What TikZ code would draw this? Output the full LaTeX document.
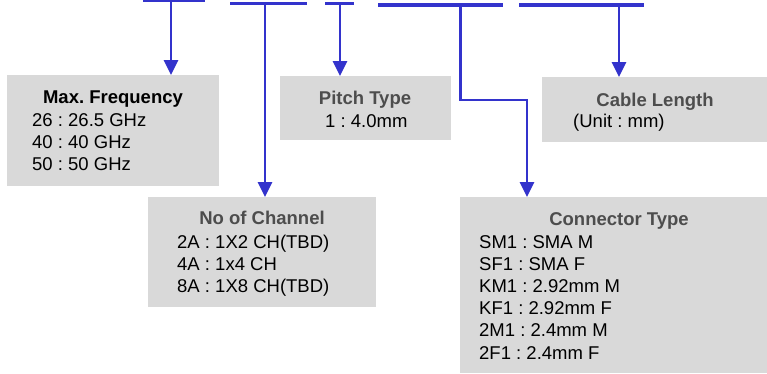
\documentclass[tikz,border=0pt]{standalone}
\usepackage{fontspec}
\setmainfont{Liberation Sans}
\usetikzlibrary{arrows.meta}
\definecolor{codeblue}{HTML}{3333CC}
\definecolor{boxgray}{HTML}{D9D9D9}
\definecolor{titlegray}{HTML}{4D4D4D}
\frenchspacing

\begin{document}
\begin{tikzpicture}[x=1pt,y=-1pt,
    box/.style={fill=boxgray, inner sep=0pt, anchor=north west},
    title/.style={font=\fontsize{18.5}{22}\selectfont\bfseries, text=titlegray, anchor=base, inner sep=0pt},
    entry/.style={font=\fontsize{18.5}{22}\selectfont, anchor=base west, inner sep=0pt},
    bar/.style={codeblue, line width=3.8pt},
    link/.style={codeblue, line width=2.7pt, -{Triangle[width=14pt,length=15pt]}}]
    \useasboundingbox (0,0) rectangle (767,373);

    \node[box, minimum width=212pt, minimum height=111pt] (freq) at (7,75) {};
    \node[box, minimum width=171pt, minimum height=64pt] (pitch) at (280,76) {};
    \node[box, minimum width=225pt, minimum height=65pt] (cable) at (542,77) {};
    \node[box, minimum width=228pt, minimum height=110pt] (channel) at (148,197) {};
    \node[box, minimum width=307pt, minimum height=176pt] (conn) at (460,197) {};

    \node[title, text=black] (freqtitle) at (113,103) {Max. Frequency};
    \node[title] (pitchtitle) at (365,104) {Pitch Type};
    \node[title] (cabletitle) at (655,106) {Cable Length};
    \node[title] (channeltitle) at (262,224) {No of Channel};
    \node[title] (conntitle) at (619,225) {Connector Type};

    \foreach \t [count=\i] in {26 : 26.5 GHz, 40 : 40 GHz, 50 : 50 GHz}
        \node[entry] (freq\i) at (32,{126+22*(\i-1)}) {\t};
    \node[entry] (pitch1) at (325,127) {1 : 4.0mm};
    \node[entry] (cable1) at (573,127) {(Unit : mm)};
    \foreach \t [count=\i] in {2A : 1X2 CH(TBD), 4A : 1x4 CH, 8A : 1X8 CH(TBD)}
        \node[entry] (channel\i) at (177,{248+22.4*(\i-1)}) {\t};
    \foreach \t [count=\i] in {SM1 : SMA M, SF1 : SMA F, KM1 : 2.92mm M, KF1 : 2.92mm F, 2M1 : 2.4mm M, 2F1 : 2.4mm F}
        \node[entry] (conn\i) at (479,{248+22.2*(\i-1)}) {\t};

    \draw[bar] (143,0.5) -- (205,0.5);
    \draw[bar] (230,3.5) -- (307,3.5);
    \draw[bar] (325,3.5) -- (354,3.5);
    \draw[bar] (378,5) -- (503,5);
    \draw[bar] (519,5) -- (644,5);

    \coordinate (f) at (171,0.5);
    \coordinate (n) at (265,3.5);
    \coordinate (p) at (340,3.5);
    \coordinate (c) at (460.5,5);
    \coordinate (bend) at (527,100);
    \coordinate (l) at (619,5);

    \draw[link] (f) -- (f |- freq.north);
    \draw[link] (n) -- (n |- channel.north);
    \draw[link] (p) -- (p |- pitch.north);
    \draw[link] (c) |- (bend) -- (bend |- conn.north);
    \draw[link] (l) -- (l |- cable.north);
\end{tikzpicture}
\end{document}
